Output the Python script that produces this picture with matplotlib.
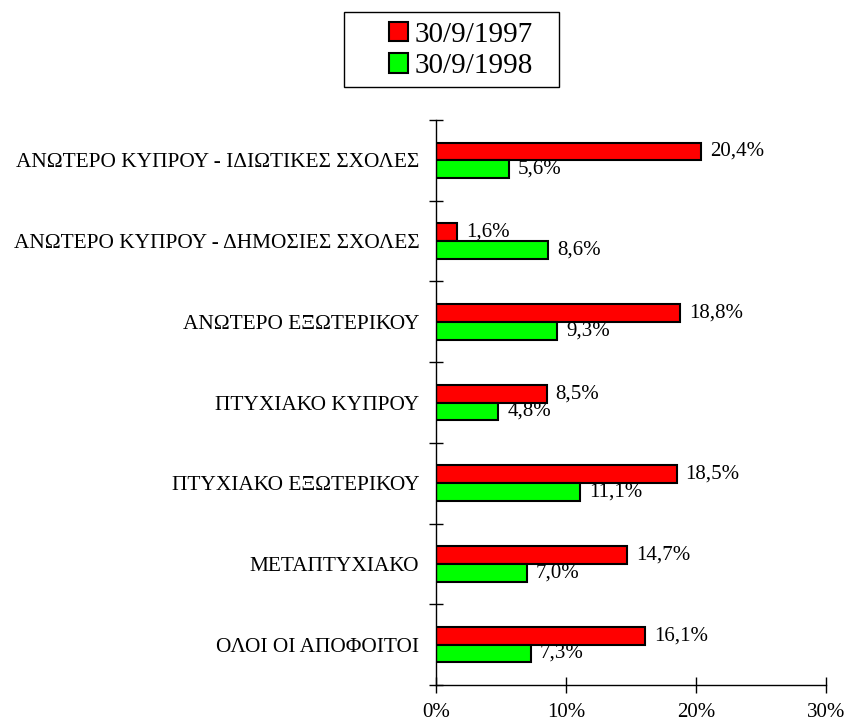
import matplotlib
matplotlib.use("Agg")
import matplotlib.pyplot as plt
from matplotlib.patches import Rectangle, Patch

plt.rcParams['font.family'] = ['Liberation Serif', 'DejaVu Serif']

categories = [
    "ΟΛΟΙ ΟΙ ΑΠΟΦΟΙΤΟΙ",
    "ΜΕΤΑΠΤΥΧΙΑΚΟ",
    "ΠΤΥΧΙΑΚΟ ΕΞΩΤΕΡΙΚΟΥ",
    "ΠΤΥΧΙΑΚΟ ΚΥΠΡΟΥ",
    "ΑΝΩΤΕΡΟ ΕΞΩΤΕΡΙΚΟΥ",
    "ΑΝΩΤΕΡΟ ΚΥΠΡΟΥ - ΔΗΜΟΣΙΕΣ ΣΧΟΛΕΣ",
    "ΑΝΩΤΕΡΟ ΚΥΠΡΟΥ - ΙΔΙΩΤΙΚΕΣ ΣΧΟΛΕΣ",
]
series_names = ["30/9/1997", "30/9/1998"]
values_1997 = [16.1, 14.7, 18.5, 8.5, 18.8, 1.6, 20.4]
values_1998 = [7.3, 7.0, 11.1, 4.8, 9.3, 8.6, 5.6]
x_ticks = [0, 10, 20, 30]
x_ticklabels = ["0%", "10%", "20%", "30%"]

W, H = 846, 725
fig = plt.figure(figsize=(W / 100, H / 100), dpi=100)
ax = fig.add_axes([436 / W, 1 - 685 / H, (826 - 436) / W, (685 - 120) / H])

y = list(range(len(categories)))
bh = 0.22
red_y = [v + bh / 2 for v in y]
green_y = [v - bh / 2 for v in y]
ax.barh(red_y, values_1997, height=bh, color='#FF0000', edgecolor='black', linewidth=1.5)
ax.barh(green_y, values_1998, height=bh, color='#00FF00', edgecolor='black', linewidth=1.5)

def fmt(v):
    return f"{v:.1f}".replace('.', ',') + '%'

for yy, v in zip(red_y, values_1997):
    ax.text(v + 0.7, yy, fmt(v), va='center', ha='left', fontsize=15)
for yy, v in zip(green_y, values_1998):
    ax.text(v + 0.7, yy, fmt(v), va='center', ha='left', fontsize=15)

ax.set_xlim(0, 30)
ax.set_ylim(-0.5, len(categories) - 0.5)
ax.set_xticks(x_ticks)
ax.set_xticklabels(x_ticklabels, fontsize=15)
ax.set_yticks([i - 0.5 for i in range(len(categories) + 1)])
ax.set_yticklabels([])
ax.set_yticks(y, minor=True)
ax.set_yticklabels(categories, minor=True, fontsize=15.4)
ax.tick_params(axis='y', which='minor', length=0, pad=12)
ax.tick_params(axis='y', which='major', direction='inout', length=10, width=1)
ax.tick_params(axis='x', direction='inout', length=12, width=1, pad=7)
for s in ['top', 'right']:
    ax.spines[s].set_visible(False)
for s in ['left', 'bottom']:
    ax.spines[s].set_linewidth(1)

handles = [Patch(facecolor='#FF0000', edgecolor='black', linewidth=1.5),
           Patch(facecolor='#00FF00', edgecolor='black', linewidth=1.5)]
fig.legend(handles, series_names, loc='center',
           bbox_to_anchor=(461 / W, 1 - 50.5 / H), frameon=False,
           fontsize=21, handlelength=0.65, handleheight=0.65,
           handletextpad=0.25, labelspacing=0.2, borderpad=0.1)
fig.patches.append(Rectangle((344 / W, 1 - 87 / H), (559 - 344) / W, 75 / H,
                             transform=fig.transFigure, fill=False,
                             edgecolor='black', linewidth=1))

fig.savefig("out.png", dpi=100)
